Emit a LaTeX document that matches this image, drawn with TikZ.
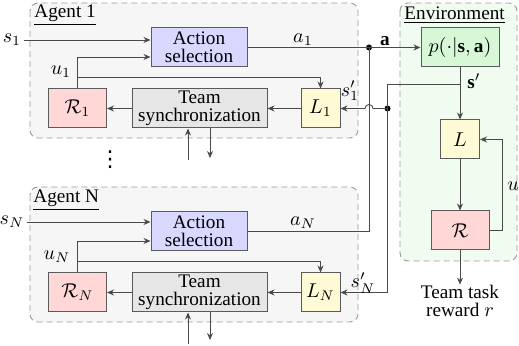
\documentclass[tikz,border=0pt]{standalone}
\usepackage{fontspec}
\setmainfont{Liberation Serif}
\newfontfamily\dejavu{DejaVu Sans}
\usetikzlibrary{arrows.meta}
\definecolor{agentfill}{HTML}{F6F6F6}
\definecolor{envfill}{HTML}{F1FCF1}
\definecolor{actfill}{HTML}{D9D9FF}
\definecolor{rfill}{HTML}{FFD7D7}
\definecolor{syncfill}{HTML}{E6E6E6}
\definecolor{lfill}{HTML}{FEFAD6}
\definecolor{pfill}{HTML}{D6F8D6}
\definecolor{linec}{HTML}{4A4A4A}
\definecolor{boxc}{HTML}{5A5A5A}
\definecolor{dashc}{HTML}{9A9A9A}
\begin{document}
\begin{tikzpicture}[x=0.5pt,y=-0.5pt,
  font=\fontsize{9.6pt}{9.2pt}\selectfont,
  >={Stealth[length=3.5pt,width=3pt]},
  every path/.style={line width=0.45pt},
  conn/.style={draw=linec,->},
  plain/.style={draw=linec},
  blk/.style={draw=boxc,line width=0.5pt,inner sep=0pt,align=center,minimum height=19.5pt},
  actbox/.style={blk,fill=actfill,minimum width=48pt},
  rbox/.style={blk,fill=rfill,minimum width=29pt},
  syncbox/.style={blk,fill=syncfill,minimum width=67.5pt},
  lbox/.style={blk,fill=lfill,minimum width=19.5pt},
  pbox/.style={blk,fill=pfill,minimum width=39pt},
  group/.style={draw=dashc,dash pattern=on 3pt off 2pt,rounded corners=4pt,line width=0.45pt},
  lbl/.style={inner sep=1pt},
  jdot/.style={circle,fill=black,inner sep=0pt,minimum size=3pt}]
\useasboundingbox (0,0) rectangle (519,346);
% groups
\draw[group,fill=agentfill] (30,3) rectangle (358,138);
\draw[group,fill=agentfill] (30,187) rectangle (358,322);
\draw[group,fill=envfill] (400,3) rectangle (517,261);
\node[lbl,anchor=west] (ag1) at (32,15) {\underline{Agent 1}};
\node[lbl,anchor=west] (agN) at (31,200) {\underline{Agent N}};
\node[lbl,anchor=west] (envl) at (402,15) {\underline{Environment}};
% agent 1
\node[actbox] (act1) at (199,47.5) {Action\\selection};
\node[rbox] (R1) at (77.5,108.5) {$\mathcal{R}_1$};
\node[syncbox] (sync1) at (199.5,108.5) {Team\\synchronization};
\node[lbox] (L1) at (320.5,108.5) {$L_1$};
% agent N
\node[actbox] (actN) at (199,231.5) {Action\\selection};
\node[rbox] (RN) at (77.5,292.5) {$\mathcal{R}_N$};
\node[syncbox] (syncN) at (199.5,292.5) {Team\\synchronization};
\node[lbox] (LN) at (320.5,292.5) {$L_N$};
% environment
\node[pbox] (p) at (460,47.5) {$p(\cdot|\mathbf{s},\mathbf{a})$};
\node[lbox] (L) at (460,139.5) {$L$};
\node[rbox] (R) at (460,230.5) {$\mathcal{R}$};
\node[align=center,inner sep=0pt] (rew) at (460,301) {Team task\\reward $r$};
% inputs
\node[lbl] (s1) at (12,40) {$s_1$};
\node[lbl] (sN) at (12,222) {$s_N$};
\draw[conn] (s1.east) -- (act1.west |- s1.east);
\draw[conn] (sN.east) -- (actN.west |- sN.east);
% u loops
\coordinate (u1c) at (77,57);
\draw[conn] (R1.north -| u1c) -- (u1c) -- (act1.west |- u1c);
\coordinate (uNc) at (77,241);
\draw[conn] (RN.north -| uNc) -- (uNc) -- (actN.west |- uNc);
\node[lbl] (u1) at (61,72) {$u_1$};
\node[lbl] (uN) at (57,257) {$u_N$};
\coordinate (t1a) at (77,77);
\coordinate (t1b) at (320.5,77);
\draw[conn] (t1a) -- (t1b) -- (L1.north);
\coordinate (tNa) at (77,261);
\coordinate (tNb) at (320.5,261);
\draw[conn] (tNa) -- (tNb) -- (LN.north);
% internal arrows
\draw[conn] (sync1.west) -- (R1.east);
\draw[conn] (L1.west) -- (sync1.east);
\draw[conn] (syncN.west) -- (RN.east);
\draw[conn] (LN.west) -- (syncN.east);
% sync external
\coordinate (su1) at (188,160);
\coordinate (sd1) at (210,158);
\draw[conn] (su1) -- (su1 |- sync1.south);
\draw[conn] (sd1 |- sync1.south) -- (sd1);
\coordinate (suN) at (188,344);
\coordinate (sdN) at (210,340);
\draw[conn] (suN) -- (suN |- syncN.south);
\draw[conn] (sdN |- syncN.south) -- (sdN);
\node[inner sep=0pt] (vd) at (110,160) {\dejavu\fontsize{11pt}{11pt}\selectfont ⋮};
% actions
\node[jdot] (ja) at (369,47.5) {};
\draw[plain] (act1.east) -- (ja.center);
\draw[conn] (ja.center) -- (p.west);
\coordinate (aN) at (369,231.5);
\draw[plain] (actN.east) -- (aN) -- (ja.center);
\node[lbl] (a1l) at (303,40) {$a_1$};
\node[lbl] (aNl) at (303,223) {$a_N$};
\node[lbl] (abl) at (385,41) {$\mathbf{a}$};
% environment flow
\coordinate (sp) at (460,84);
\draw[conn] (p.south) -- (L.north);
\node[jdot] (js) at (387.5,108.5) {};
\coordinate (sNc) at (387.5,292.5);
\draw[plain] (sp) -- (387.5,84) -- (sNc);
\draw[conn] (sNc) -- (LN.east);
\draw[conn] (js.center) -- (373,108.5) arc[start angle=0,end angle=180,radius=2pt] -- (L1.east);
\node[lbl] (spl) at (474,81) {$\mathbf{s}'$};
\node[lbl] (s1l) at (350,91) {$s'_1$};
\node[lbl] (sNl) at (363,283) {$s'_N$};
\draw[conn] (L.south) -- (R.north);
\coordinate (ur) at (502,230.5);
\draw[conn] (R.east) -- (ur) -- (ur |- L.east) -- (L.east);
\node[lbl] (ul) at (513,186) {$u$};
\draw[conn] (R.south) -- (rew.north);
\end{tikzpicture}
\end{document}
